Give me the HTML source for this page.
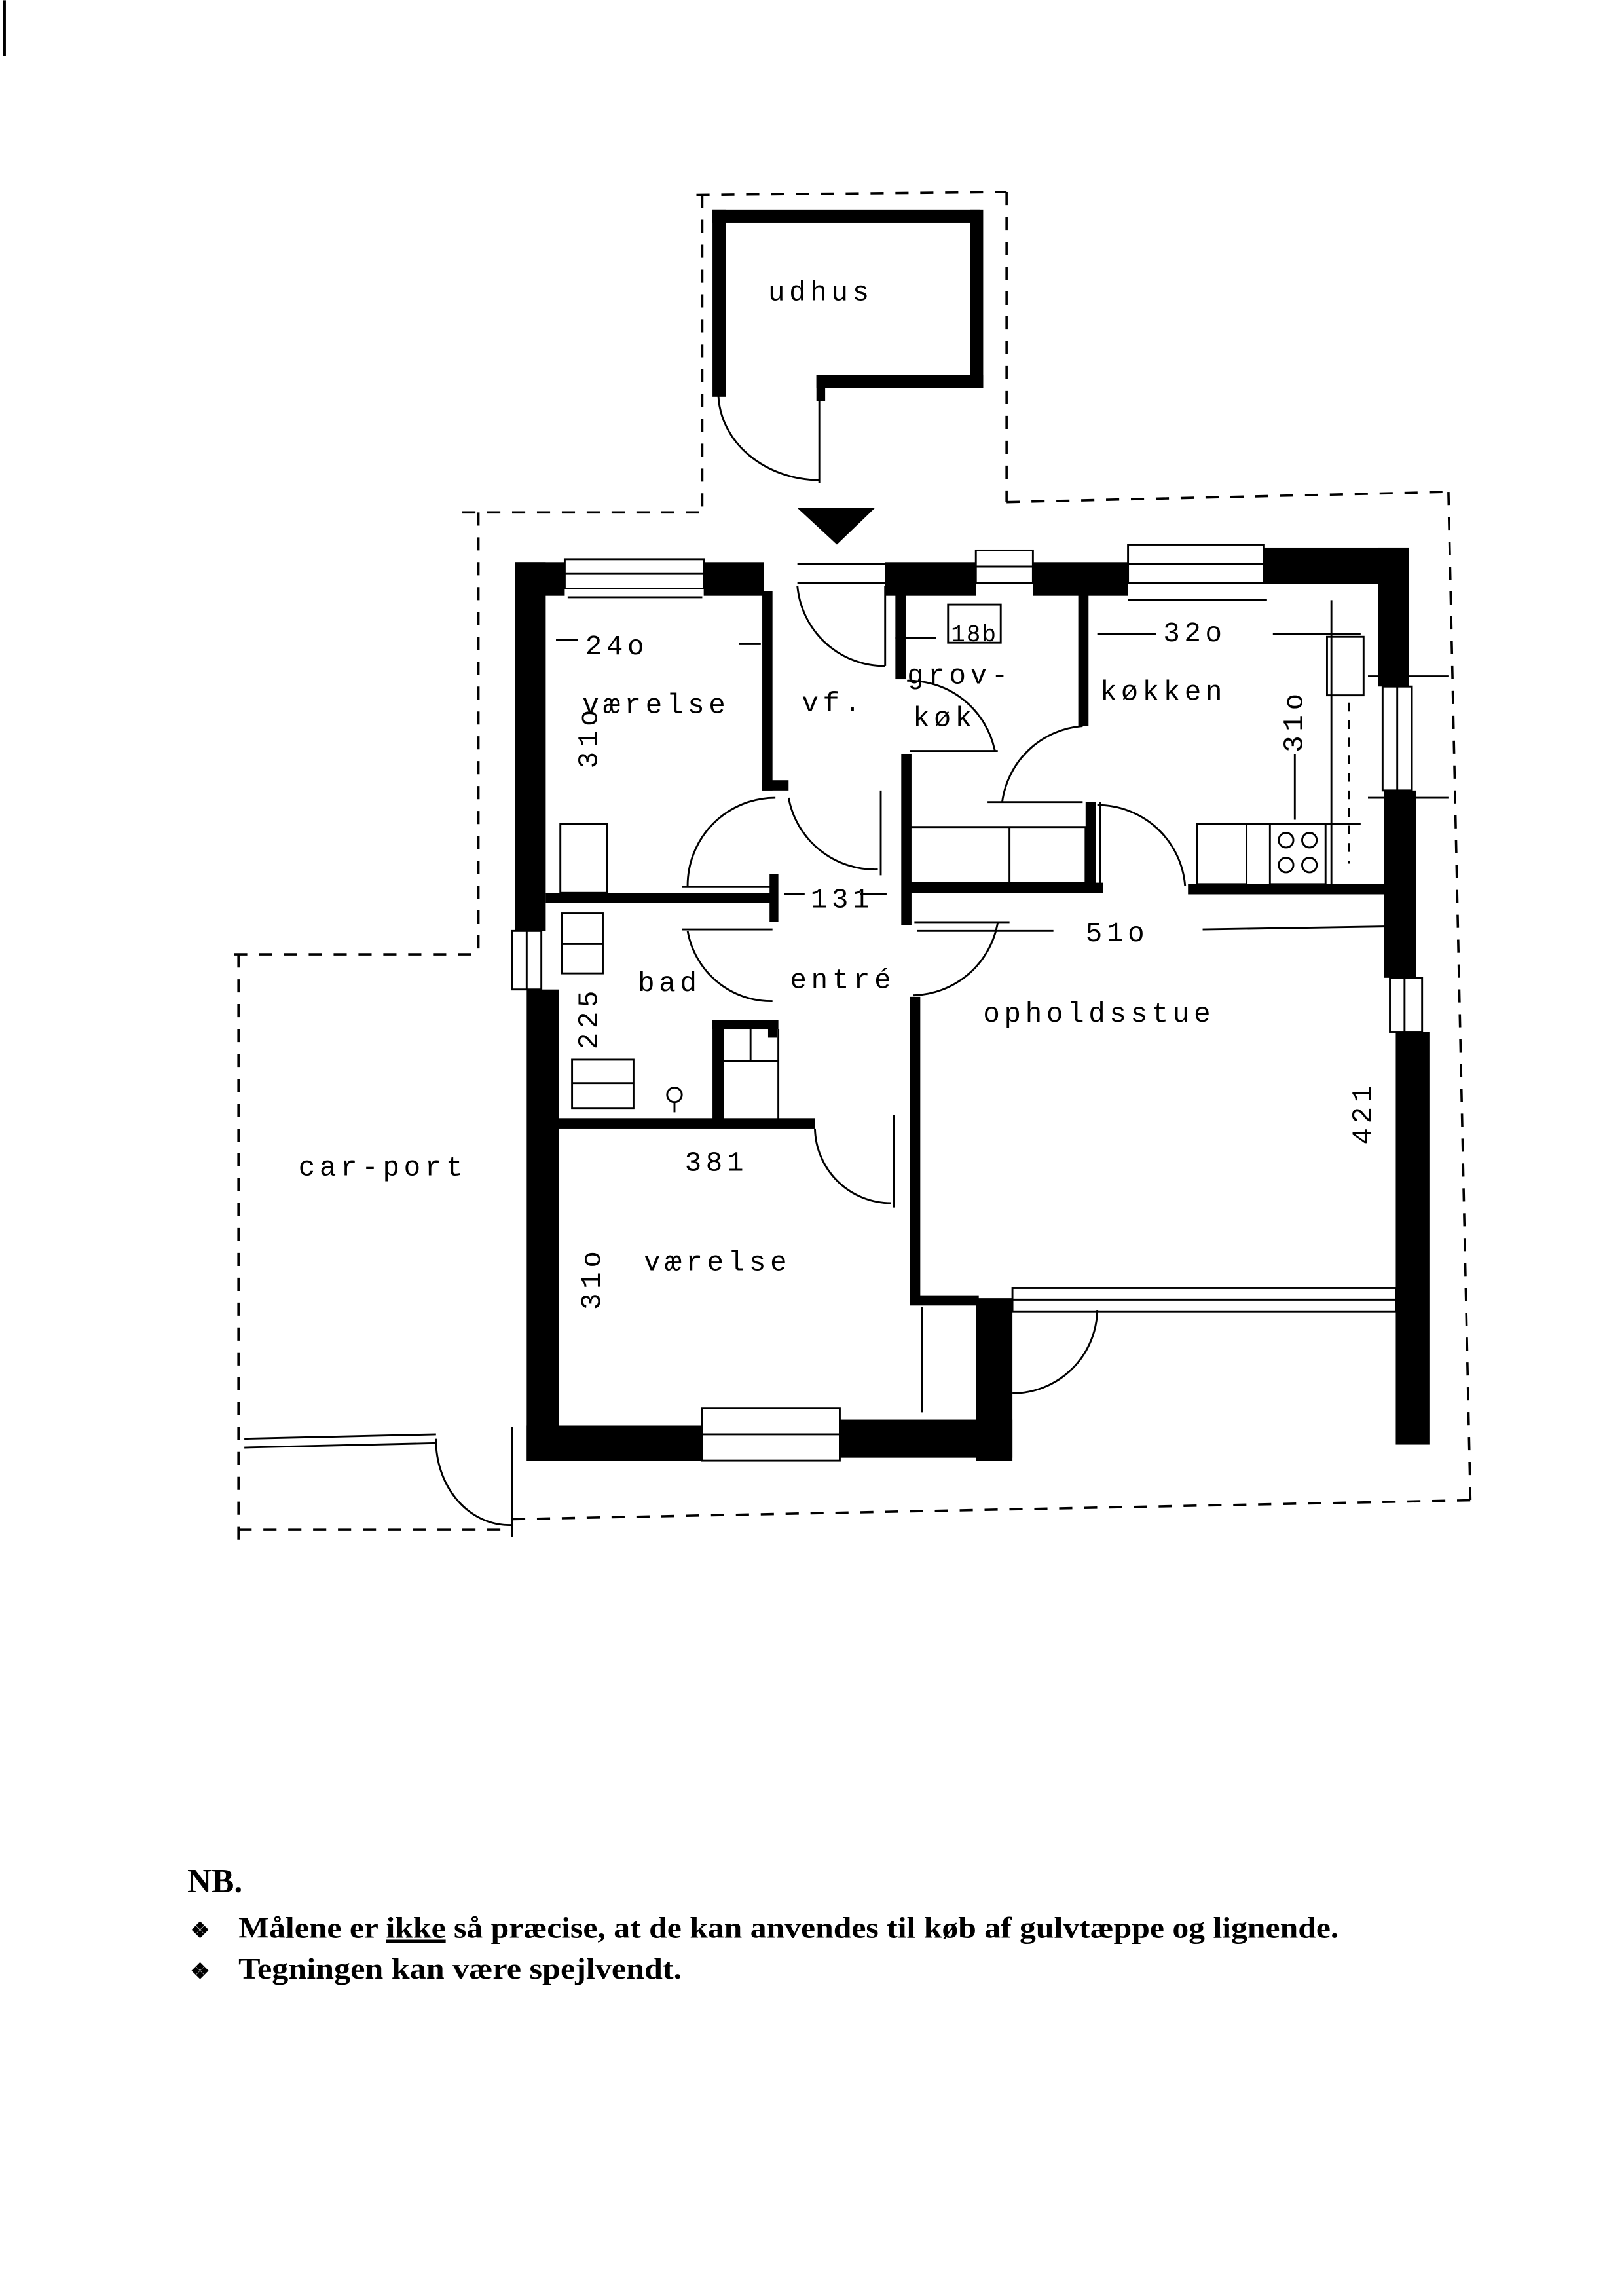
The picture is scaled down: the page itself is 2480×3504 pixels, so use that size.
<!DOCTYPE html>
<html><head><meta charset="utf-8"><style>
html,body{margin:0;padding:0;background:#fff;}
svg{display:block;}
text{font-family:"Liberation Mono","DejaVu Sans Mono",monospace;fill:#000;}
.t{font-size:19px;letter-spacing:3px;}
.nb{font-family:"Liberation Serif",serif;font-weight:bold;}
</style></head><body>
<svg width="2480" height="3504" viewBox="0 0 1110 1568" xmlns="http://www.w3.org/2000/svg">
<rect width="1110" height="1568" fill="#fff"/>
<line x1="3" y1="0" x2="3" y2="38" stroke="#000" stroke-width="2"/>
<g stroke="#000" stroke-width="1.6" fill="none" stroke-dasharray="9,8">
<line x1="476" y1="133" x2="688" y2="131"/>
<line x1="480" y1="133" x2="480" y2="350"/>
<line x1="688" y1="131" x2="688" y2="343"/>
<line x1="316" y1="350" x2="480" y2="350"/>
<line x1="327" y1="350" x2="327" y2="650"/>
<line x1="688" y1="343" x2="990" y2="336"/>
<line x1="990" y1="336" x2="1005" y2="1025"/>
<line x1="350" y1="1038" x2="1008" y2="1025"/>
<line x1="160" y1="652" x2="327" y2="652"/>
<line x1="163" y1="652" x2="163" y2="1055"/>
<line x1="163" y1="1045" x2="350" y2="1045"/>
</g>
<g fill="#000">
<rect x="487" y="143" width="183" height="9"/>
<rect x="487" y="143" width="9" height="128"/>
<rect x="663" y="143" width="9" height="122"/>
<rect x="558" y="256" width="114" height="9"/>
<rect x="558" y="256" width="6" height="18"/>
<polygon points="545,347 598,347 572,372"/>
<rect x="352" y="384" width="21" height="252"/>
<rect x="352" y="384" width="34" height="23"/>
<rect x="481" y="384" width="41" height="23"/>
<rect x="605" y="384" width="62" height="23"/>
<rect x="706" y="384" width="65" height="23"/>
<rect x="864" y="374" width="99" height="25"/>
<rect x="942" y="374" width="21" height="95"/>
<rect x="946" y="540" width="22" height="128"/>
<rect x="954" y="705" width="23" height="282"/>
<rect x="360" y="676" width="22" height="322"/>
<rect x="360" y="974" width="120" height="24"/>
<rect x="574" y="970" width="118" height="26"/>
<rect x="667" y="887" width="25" height="111"/>
<rect x="521" y="404" width="7" height="136"/>
<rect x="521" y="533" width="18" height="7"/>
<rect x="373" y="610" width="157" height="7"/>
<rect x="526" y="597" width="6" height="33"/>
<rect x="382" y="764" width="175" height="7"/>
<rect x="487" y="697" width="8" height="70"/>
<rect x="487" y="697" width="45" height="6"/>
<rect x="525" y="697" width="6" height="12"/>
<rect x="612" y="404" width="7" height="60"/>
<rect x="616" y="515" width="7" height="117"/>
<rect x="737" y="404" width="7" height="92"/>
<rect x="622" y="603" width="132" height="7"/>
<rect x="742" y="548" width="7" height="62"/>
<rect x="812" y="604" width="135" height="7"/>
<rect x="622" y="681" width="7" height="210"/>
<rect x="622" y="885" width="47" height="7"/>
</g>
<g stroke="#000" stroke-width="1.3" fill="none">
<rect x="386" y="382" width="95" height="20"/><line x1="386" y1="392" x2="481" y2="392"/><line x1="388" y1="408" x2="480" y2="408"/>
<rect x="667" y="376" width="39" height="22"/><line x1="667" y1="387" x2="706" y2="387"/>
<rect x="771" y="372" width="93" height="26"/><line x1="771" y1="385" x2="864" y2="385"/><line x1="771" y1="410" x2="866" y2="410"/>
<rect x="945" y="469" width="20" height="71"/><line x1="955" y1="469" x2="955" y2="540"/><line x1="935" y1="462" x2="990" y2="462"/><line x1="935" y1="545" x2="990" y2="545"/>
<rect x="950" y="668" width="22" height="37"/><line x1="960" y1="668" x2="960" y2="705"/>
<rect x="350" y="636" width="20" height="40"/><line x1="360" y1="636" x2="360" y2="676"/>
<rect x="480" y="962" width="94" height="36"/><line x1="480" y1="980" x2="574" y2="980"/>
<rect x="692" y="880" width="262" height="16"/><line x1="692" y1="888" x2="954" y2="888"/>
<line x1="545" y1="385" x2="605" y2="385"/><line x1="545" y1="398" x2="605" y2="398"/>
<line x1="167" y1="983" x2="298" y2="980"/><line x1="167" y1="989" x2="298" y2="986"/>
<path d="M491,270 A70,60 0 0 0 560,328"/><line x1="560" y1="270" x2="560" y2="330"/>
<path d="M545,400 A60,60 0 0 0 605,455"/><line x1="605" y1="400" x2="605" y2="455"/>
<path d="M530,545 A60,60 0 0 0 470,606"/><line x1="466" y1="606" x2="528" y2="606"/>
<path d="M539,545 A60,60 0 0 0 600,594"/><line x1="602" y1="540" x2="602" y2="598"/>
<path d="M470,636 A58,58 0 0 0 528,684"/><line x1="466" y1="635" x2="528" y2="635"/>
<path d="M624,680 A60,60 0 0 0 682,630"/><line x1="625" y1="630" x2="690" y2="630"/>
<path d="M620,465 A60,60 0 0 1 680,513"/><line x1="622" y1="513" x2="682" y2="513"/>
<path d="M740,496 A60,60 0 0 0 685,548"/><line x1="675" y1="548" x2="740" y2="548"/>
<path d="M750,550 A60,60 0 0 1 810,605"/><line x1="752" y1="548" x2="752" y2="610"/>
<path d="M557,771 A52,52 0 0 0 609,822"/><line x1="611" y1="762" x2="611" y2="825"/>
<path d="M692,952 A58,58 0 0 0 750,895"/>
<path d="M298,983 A50,58 0 0 0 350,1042"/><line x1="350" y1="975" x2="350" y2="1050"/>
<line x1="630" y1="893" x2="630" y2="965"/>
<rect x="622" y="565" width="120" height="38"/><line x1="690" y1="565" x2="690" y2="603"/>
<rect x="648" y="413" width="36" height="26"/>
<rect x="818" y="563" width="34" height="41"/><rect x="868" y="563" width="38" height="41"/>
<circle cx="879" cy="574" r="5"/><circle cx="895" cy="574" r="5"/><circle cx="879" cy="591" r="5"/><circle cx="895" cy="591" r="5"/>
<line x1="818" y1="563" x2="930" y2="563"/><line x1="910" y1="410" x2="910" y2="605"/>
<rect x="907" y="435" width="25" height="40"/>
<line x1="922" y1="480" x2="922" y2="590" stroke-dasharray="6,6"/>
<rect x="383" y="563" width="32" height="47"/>
<rect x="384" y="624" width="28" height="41"/><line x1="384" y1="645" x2="412" y2="645"/>
<rect x="391" y="724" width="42" height="33"/><line x1="391" y1="740" x2="433" y2="740"/>
<line x1="495" y1="725" x2="532" y2="725"/><line x1="532" y1="703" x2="532" y2="765"/><line x1="513" y1="703" x2="513" y2="725"/>
<circle cx="461" cy="748" r="5"/><line x1="461" y1="753" x2="461" y2="760"/>
<line x1="380" y1="437" x2="395" y2="437"/><line x1="505" y1="440" x2="520" y2="440"/>
<line x1="612" y1="436" x2="640" y2="436"/><line x1="750" y1="433" x2="790" y2="433"/><line x1="870" y1="433" x2="930" y2="433"/>
<line x1="536" y1="611" x2="550" y2="611"/><line x1="588" y1="611" x2="606" y2="611"/>
<line x1="627" y1="636" x2="720" y2="636"/><line x1="822" y1="635" x2="946" y2="633"/>
<line x1="885" y1="515" x2="885" y2="560"/>
</g>
<g class="t">
<text x="525" y="205">udhus</text>
<text x="400" y="447">24o</text>
<text x="398" y="487">værelse</text>
<text x="548" y="486">vf.</text>
<text x="620" y="467">grov-</text>
<text x="624" y="496">køk</text>
<text x="650" y="438" style="font-size:16px;letter-spacing:1px">18b</text>
<text x="795" y="438">32o</text>
<text x="752" y="478">køkken</text>
<text x="554" y="620">131</text>
<text x="742" y="643">51o</text>
<text x="436" y="677">bad</text>
<text x="540" y="675">entré</text>
<text x="672" y="698">opholdsstue</text>
<text x="468" y="800">381</text>
<text x="440" y="868">værelse</text>
<text x="204" y="803">car-port</text>
<text transform="translate(408,525) rotate(-90)">31o</text>
<text transform="translate(890,514) rotate(-90)">31o</text>
<text transform="translate(408,717) rotate(-90)">225</text>
<text transform="translate(937,782) rotate(-90)">421</text>
<text transform="translate(410,895) rotate(-90)">31o</text>
</g>
<text x="128" y="1293" class="nb" font-size="23">NB.</text>
<text x="130" y="1324" class="nb" font-size="15">❖</text>
<text x="163" y="1324" class="nb" font-size="20.5" textLength="752" lengthAdjust="spacingAndGlyphs">Målene er <tspan text-decoration="underline">ikke</tspan> så præcise, at de kan anvendes til køb af gulvtæppe og lignende.</text>
<text x="130" y="1352" class="nb" font-size="15">❖</text>
<text x="163" y="1352" class="nb" font-size="20.5" textLength="303" lengthAdjust="spacingAndGlyphs">Tegningen kan være spejlvendt.</text>
</svg>
</body></html>
